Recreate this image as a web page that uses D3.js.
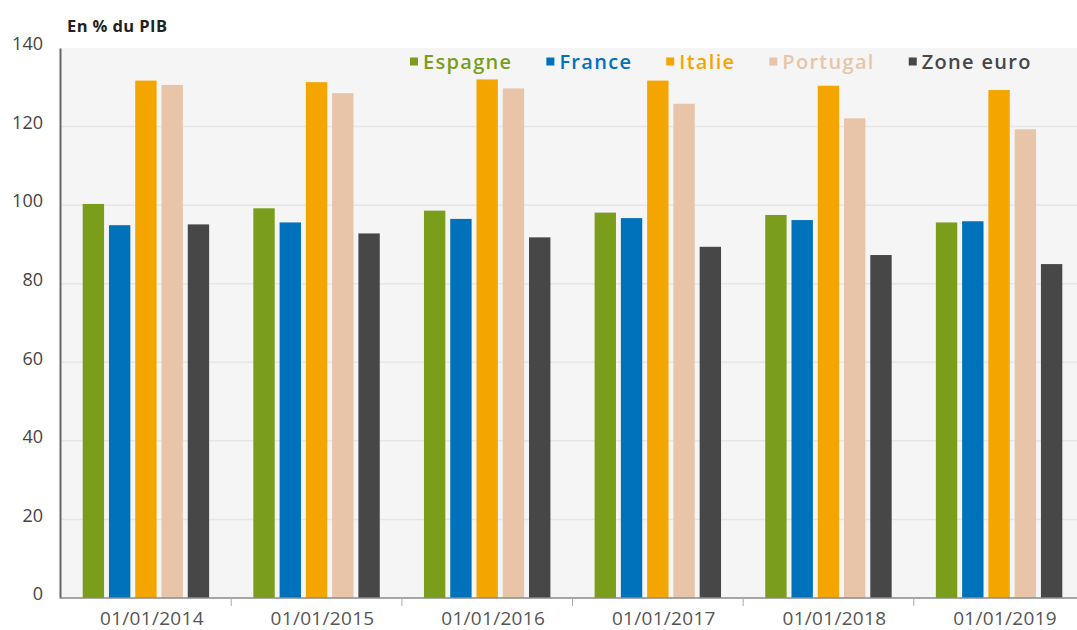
<!DOCTYPE html>
<html>
<head>
<meta charset="utf-8">
<script src="https://cdn.jsdelivr.net/npm/d3@7"></script>
<style>
  body { margin: 0; background: #fff; overflow: hidden; }
  svg text { font-family: "Open Sans", sans-serif; }
</style>
</head>
<body>
<div id="chart"></div>
<script>
(function () {

  // dates on the x axis
  const dates = ['01/01/2014', '01/01/2015', '01/01/2016', '01/01/2017', '01/01/2018', '01/01/2019']
  const countries = ['Espagne', 'France', 'Italie', 'Portugal', 'Zone euro']

  // public debt, % of GDP
  const espagne = [100.3, 99.2, 98.6, 98.1, 97.5, 95.6]
  const france = [94.9, 95.6, 96.5, 96.7, 96.2, 95.9]
  const italie = [131.7, 131.3, 132.0, 131.7, 130.4, 129.3]
  const portugal = [130.6, 128.5, 129.7, 125.8, 122.1, 119.3]
  const zoneEuro = [95.1, 92.8, 91.8, 89.4, 87.3, 85.0]

  const yTicks = [0, 20, 40, 60, 80, 100, 120, 140]

  const series = [espagne, france, italie, portugal, zoneEuro]
  const colors = ['#7a9e1c', '#0072bc', '#f5a500', '#e8c4a8', '#474747']

  const W = 1077, H = 630
  // the plot runs a little past the right edge of the picture, as in the original
  const margin = { top: 48, right: -8, bottom: 32, left: 60 }
  const width = W - margin.left - margin.right
  const height = H - margin.top - margin.bottom

  const root = d3.select('#chart').append('svg')
    .attr('width', W)
    .attr('height', H)

  const svg = root.append('g')
    .attr('transform', 'translate(' + margin.left + ',' + margin.top + ')')

  const x0 = d3.scaleBand()
    .domain(dates)
    .range([0, width])
    .paddingInner(0.259)
    .paddingOuter(0.133)

  const x1 = d3.scaleBand()
    .domain(countries)
    .range([0, x0.bandwidth()])
    .paddingInner(0.186)

  const y = d3.scaleLinear()
    .domain([0, 140])
    .range([height, 0])

  const color = d3.scaleOrdinal().domain(countries).range(colors)

  // plot background
  svg.append('rect')
    .attr('width', width)
    .attr('height', height)
    .attr('fill', '#f5f5f5')

  // gridlines
  svg.append('g')
    .selectAll('line')
    .data(yTicks.filter(d => d > 0 && d < 140))
    .join('line')
    .attr('x1', 0)
    .attr('x2', width)
    .attr('y1', d => y(d))
    .attr('y2', d => y(d))
    .attr('stroke', '#e6e6e6')
    .attr('stroke-width', 1.5)

  // bars
  const rows = dates.map((d, i) => countries.map((c, j) => ({ date: d, country: c, value: series[j][i] })))

  svg.append('g')
    .selectAll('g')
    .data(rows)
    .join('g')
    .attr('transform', d => 'translate(' + x0(d[0].date) + ',0)')
    .selectAll('rect')
    .data(d => d)
    .join('rect')
    .attr('x', d => x1(d.country))
    .attr('width', x1.bandwidth())
    .attr('y', d => y(d.value))
    .attr('height', d => y(0) - y(d.value))
    .attr('fill', d => color(d.country))

  // y axis
  const yAxis = d3.axisLeft(y).tickValues(yTicks).tickSize(0).tickPadding(17)
  const yg = svg.append('g')
    .attr('class', 'axis y-axis')
    .call(yAxis)
  yg.select('.domain').attr('stroke', '#666').attr('stroke-width', 2)
  yg.selectAll('text')
    .attr('font-size', 18)
    .attr('fill', '#444')
    .attr('dy', '0.1em')

  // x axis: ticks sit between the groups
  const xg = svg.append('g')
    .attr('class', 'axis x-axis')
    .attr('transform', 'translate(0,' + height + ')')
  xg.append('line')
    .attr('x1', 0)
    .attr('x2', width)
    .attr('stroke', '#8a8a8a')
    .attr('stroke-width', 1.5)
  xg.selectAll('.sep')
    .data(dates.slice(1))
    .join('line')
    .attr('class', 'sep')
    .attr('x1', d => x0(d) - x0.step() * x0.paddingInner() / 2)
    .attr('x2', d => x0(d) - x0.step() * x0.paddingInner() / 2)
    .attr('y1', 0)
    .attr('y2', 8)
    .attr('stroke', '#aaa')
    .attr('stroke-width', 1)
  xg.selectAll('.lbl')
    .data(dates)
    .join('text')
    .attr('class', 'lbl')
    .attr('x', d => x0(d) + x0.bandwidth() / 2 + 6)
    .attr('y', 27)
    .attr('text-anchor', 'middle')
    .attr('font-size', 19)
    .attr('letter-spacing', 0.3)
    .attr('fill', '#555')
    .text(d => d)

  // title
  root.append('text')
    .attr('x', 67)
    .attr('y', 31.5)
    .attr('font-size', 16.5)
    .attr('font-weight', 'bold')
    .attr('letter-spacing', 0.4)
    .attr('fill', '#222')
    .text('En % du PIB')

  // legend
  const legend = root.append('g')
  let lx = 410
  countries.forEach(c => {
    legend.append('rect')
      .attr('x', lx)
      .attr('y', 57.5)
      .attr('width', 8)
      .attr('height', 8)
      .attr('fill', color(c))
    const t = legend.append('text')
      .attr('x', lx + 13)
      .attr('y', 68.5)
      .attr('font-size', 20)
      .attr('font-weight', 600)
      .attr('letter-spacing', 1.3)
      .attr('fill', color(c))
      .text(c)
    lx += 13 + t.node().getComputedTextLength() + 34
  })

})();
</script>
</body>
</html>
